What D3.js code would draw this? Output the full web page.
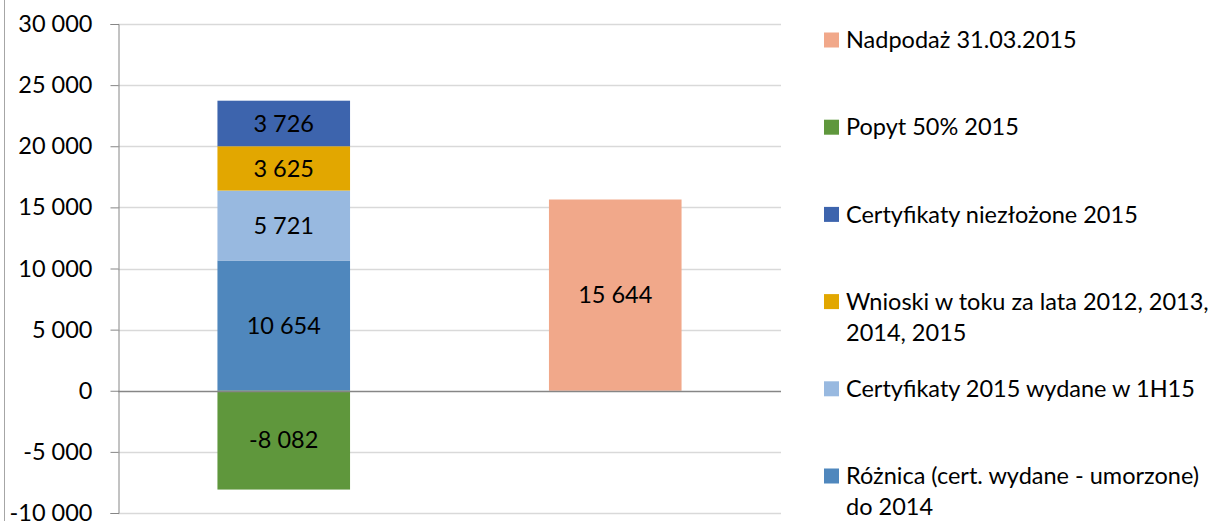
<!DOCTYPE html>
<html lang="pl">
<head>
<meta charset="utf-8">
<title>Nadpodaż vs popyt</title>
<script src="https://d3js.org/d3.v7.min.js"></script>
<style>
    body { margin: 0; background: #fff; font-family: Lato, "Open Sans", sans-serif; }
    svg text { fill: #000; }
</style>
</head>
<body>
<div id="chart"></div>
<script>
// categories (two columns, no visible labels)
const categories = ["Popyt", "Podaż"];

// series, in stacking order
const seriesNames = [
    "Różnica (cert. wydane - umorzone) do 2014",
    "Certyfikaty 2015 wydane w 1H15",
    "Wnioski w toku za lata 2012, 2013, 2014, 2015",
    "Certyfikaty niezłożone 2015",
    "Popyt 50% 2015",
    "Nadpodaż 31.03.2015"
];
const seriesColors = ["#4f87bd", "#98b9e0", "#e2a700", "#3d64ad", "#5f973c", "#f1a88a"];

// values per series: [Popyt column, Podaż column]
const rozniica = [10654, 0];
const cert2015 = [5721, 0];
const wnioski = [3625, 0];
const niezlozone = [3726, 0];
const popyt = [-8082, 0];
const nadpodaz = [0, 15644];

// legend text lines (top to bottom)
const legendLines = [
    ["Nadpodaż 31.03.2015"],
    ["Popyt 50% 2015"],
    ["Certyfikaty niezłożone 2015"],
    ["Wnioski w toku za lata 2012, 2013,", "2014, 2015"],
    ["Certyfikaty 2015 wydane w 1H15"],
    ["Różnica (cert. wydane - umorzone)", "do 2014"]
];
const yTicks = [-10000, -5000, 0, 5000, 10000, 15000, 20000, 25000, 30000];

const W = 1224, H = 521;
const plot = {left: 118, right: 781, top: 24, bottom: 513};
const fontSize = "23.5px";

const allValues = [rozniica, cert2015, wnioski, niezlozone, popyt, nadpodaz];
const rows = categories.map((c, i) => {
    const r = {cat: c};
    seriesNames.forEach((s, k) => r[s] = allValues[k][i]);
    return r;
});

const stack = d3.stack().keys(seriesNames).offset(d3.stackOffsetDiverging);
const stacked = stack(rows);

const x = d3.scaleBand().domain(categories)
    .range([plot.left, plot.right]).paddingInner(0.6).paddingOuter(0.3);
const y = d3.scaleLinear().domain([-10000, 30000]).range([plot.bottom, plot.top]);

const locale = d3.formatLocale({decimal: ",", thousands: " ", grouping: [3], currency: ["", " zł"], minus: "-"});
const fmt = locale.format(",");

const svg = d3.select("#chart").append("svg")
    .attr("width", W).attr("height", H);

// outer border line on the left
svg.append("line")
    .attr("x1", 4.5).attr("x2", 4.5).attr("y1", 0).attr("y2", H)
    .attr("stroke", "#a6a6a6");

// gridlines
svg.append("g").selectAll("line")
    .data(yTicks.filter(t => t !== 0))
    .join("line")
    .attr("x1", plot.left).attr("x2", plot.right)
    .attr("y1", d => Math.round(y(d)) + 0.5).attr("y2", d => Math.round(y(d)) + 0.5)
    .attr("stroke", "#d9d9d9").attr("stroke-width", 1.3);

// bars
const layer = svg.append("g").selectAll("g")
    .data(stacked)
    .join("g")
    .attr("fill", (d, i) => seriesColors[i]);

layer.selectAll("rect")
    .data(d => d.filter(p => p.data[d.key] !== 0).map(p => Object.assign(p, {key: d.key})))
    .join("rect")
    .attr("x", d => x(d.data.cat))
    .attr("width", x.bandwidth())
    .attr("y", d => y(Math.max(d[0], d[1])))
    .attr("height", d => Math.abs(y(d[0]) - y(d[1])));

// value labels
layer.selectAll("text")
    .data(d => d.filter(p => p.data[d.key] !== 0).map(p => Object.assign(p, {key: d.key})))
    .join("text")
    .attr("x", d => x(d.data.cat) + x.bandwidth() / 2)
    .attr("y", d => y((d[0] + d[1]) / 2))
    .attr("dy", "0.35em")
    .attr("text-anchor", "middle")
    .style("font-size", fontSize)
    .style("fill", "#000")
    .text(d => fmt(d.data[d.key]));

// y axis
const yAxis = d3.axisLeft(y).tickValues(yTicks).tickSize(8).tickPadding(18).tickFormat(fmt);
const ag = svg.append("g")
    .attr("transform", `translate(${plot.left + 0.5},0)`)
    .call(yAxis);
ag.select(".domain").attr("stroke", "#868686");
ag.selectAll(".tick line").attr("stroke", "#868686");
ag.selectAll(".tick text").style("font-size", fontSize).style("font-family", "Lato, sans-serif").attr("fill", "#000");

// zero line
svg.append("line")
    .attr("x1", plot.left).attr("x2", plot.right)
    .attr("y1", Math.round(y(0)) + 0.5).attr("y2", Math.round(y(0)) + 0.5)
    .attr("stroke", "#868686").attr("stroke-width", 1.3);

// legend
const legendOrder = [5, 4, 3, 2, 1, 0];
const lg = svg.append("g").selectAll("g")
    .data(legendLines)
    .join("g")
    .attr("transform", (d, i) => `translate(824, ${40 + i * 87.2})`);

lg.append("rect")
    .attr("x", 0).attr("y", -7.5).attr("width", 15).attr("height", 15)
    .attr("fill", (d, i) => seriesColors[legendOrder[i]]);

lg.append("text")
    .attr("x", 22)
    .style("font-size", fontSize)
    .selectAll("tspan")
    .data(d => d)
    .join("tspan")
    .attr("x", 22)
    .attr("y", (d, j) => j * 31)
    .attr("dy", "0.35em")
    .text(d => d);
</script>
</body>
</html>
